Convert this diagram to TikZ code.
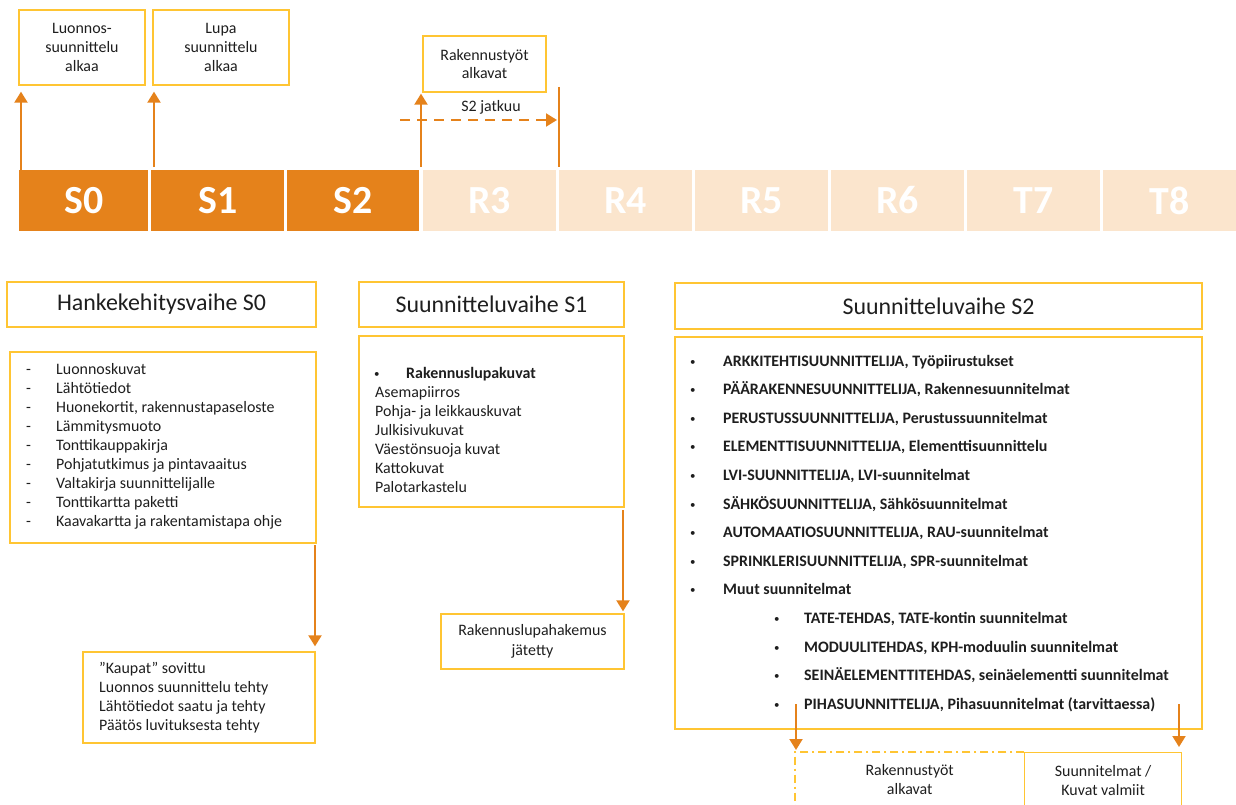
\documentclass[tikz,border=0pt]{standalone}
\usepackage{fontspec}
\setmainfont{Carlito}
\usetikzlibrary{arrows.meta}

\definecolor{phaseorange}{HTML}{E5821B}
\definecolor{phasepeach}{HTML}{FBE5CD}
\definecolor{frameyellow}{HTML}{FFC533}
\definecolor{ink}{HTML}{1E1E1E}

\tikzset{
  phasecell/.style={inner sep=0, minimum height=61bp, text=white,
    font=\fontsize{40}{40}\selectfont\bfseries, anchor=west},
  frame/.style={draw=frameyellow, line width=1.3bp, inner sep=0},
  titletext/.style={font=\fontsize{24}{28}\selectfont, text=ink},
  bodytext/.style={font=\fontsize{16}{19}\selectfont, text=ink},
  listline/.style={bodytext, inner sep=0, anchor=base west},
  boldline/.style={listline, font=\fontsize{16}{19}\selectfont\bfseries},
  bulletmark/.style={inner sep=0, anchor=base west, text=ink,
    font=\fontsize{11}{11}\selectfont, yshift=1bp},
  orangeline/.style={draw=phaseorange, line width=2bp},
  flow/.style={orangeline, -{Triangle[width=13bp,length=11bp]}},
  flowdash/.style={flow, dash pattern=on 10bp off 7bp},
  dashdotframe/.style={draw=frameyellow, line width=1.3bp,
    dash pattern=on 8bp off 4bp on 2bp off 4bp},
}

\begin{document}
\begin{tikzpicture}[x=1bp, y=-1bp]
\useasboundingbox (0,0) rectangle (1236,805);
\clip (0,0) rectangle (1236,805);

% ---- phase timeline ----
\foreach \l/\r/\lab/\c in {19/148/S0/phaseorange, 151/284/S1/phaseorange,
    287/419/S2/phaseorange, 423/556/R3/phasepeach, 559/692/R4/phasepeach,
    695/828/R5/phasepeach, 831/964/R6/phasepeach, 967/1100/T7/phasepeach,
    1103/1236/T8/phasepeach}{
  \pgfmathsetmacro\cellw{\r-\l}
  \node[phasecell, fill=\c, minimum width=\cellw bp] (ph\lab) at (\l,200.5) {\lab};
}

% ---- milestones above the timeline ----
\node[frame, bodytext, minimum width=126bp, minimum height=75bp, align=center]
  (lnb) at (82,47.5) {Luonnos-\\suunnittelu\\alkaa};
\node[frame, bodytext, minimum width=136bp, minimum height=75bp, align=center]
  (lpb) at (221,47.5) {Lupa\\suunnittelu\\alkaa};
\node[frame, bodytext, minimum width=123bp, minimum height=56bp, align=center]
  (rtb) at (484.5,64) {Rakennustyöt\\alkavat};

\coordinate (u0) at (21,170);
\coordinate (u1) at (154,167);
\coordinate (u2) at (421,167);
\draw[flow, shorten >=6bp] (u0) -- (u0 |- lnb.south);
\draw[flow, shorten >=6bp] (u1) -- (u1 |- lpb.south);
\draw[flow, shorten >=1bp] (u2) -- (u2 |- rtb.south);

\coordinate (vt) at (559,87);
\coordinate (vb) at (559,167);
\draw[orangeline] (vt) -- (vb);
\coordinate (d0) at (400,120);
\draw[flowdash, shorten >=2bp] (d0) -- (d0 -| vt);
\node[bodytext, inner sep=0] (sj) at (491,107) {S2 jatkuu};

% ---- phase S0 ----
\node[frame, titletext, minimum width=309bp, minimum height=45bp]
  (t0) at (161.5,304.5) {Hankekehitysvaihe S0};
\node[frame, minimum width=306bp, minimum height=191bp] (b0) at (163,447.5) {};
\foreach \t [count=\i from 0] in {Luonnoskuvat, Lähtötiedot,
    {Huonekortit, rakennustapaseloste}, Lämmitysmuoto, Tonttikauppakirja,
    Pohjatutkimus ja pintavaaitus, Valtakirja suunnittelijalle,
    Tonttikartta paketti, Kaavakartta ja rakentamistapa ohje}{
  \node[listline] (s0d\i) at (26,{374.5+19*\i}) {-};
  \node[listline] (s0t\i) at (56,{374.5+19*\i}) {\t};
}
\node[frame, minimum width=232bp, minimum height=91bp] (kp) at (199,697.5) {};
\foreach \t [count=\i from 0] in {”Kaupat” sovittu, Luonnos suunnittelu tehty,
    Lähtötiedot saatu ja tehty, Päätös luvituksesta tehty}{
  \node[listline] (kpt\i) at (99,{673.5+19*\i}) {\t};
}
\coordinate (k0) at (315,545);
\draw[flow, shorten >=5bp] (k0) -- (k0 |- kp.north);

% ---- phase S1 ----
\node[frame, titletext, minimum width=265bp, minimum height=45bp]
  (t1) at (491.5,304.5) {Suunnitteluvaihe S1};
\node[frame, minimum width=265bp, minimum height=171bp] (b1) at (491.5,421.5) {};
\node[bulletmark] (s1b) at (374,378) {•};
\node[boldline] (s1h) at (406,378) {Rakennuslupakuvat};
\foreach \t [count=\i from 1] in {Asemapiirros, Pohja- ja leikkauskuvat,
    Julkisivukuvat, Väestönsuoja kuvat, Kattokuvat, Palotarkastelu}{
  \node[listline] (s1t\i) at (375,{378+19*\i}) {\t};
}
\node[frame, bodytext, font=\fontsize{16}{20}\selectfont, minimum width=183bp,
  minimum height=55bp, align=center] (rlh) at (532.5,641.5)
  {Rakennuslupahakemus\\jätetty};
\coordinate (k1) at (623,510);
\draw[flow, shorten >=2bp] (k1) -- (k1 |- rlh.north);

% ---- phase S2 ----
\node[frame, titletext, minimum width=527bp, minimum height=46bp]
  (t2) at (938.5,306) {Suunnitteluvaihe S2};
\node[frame, minimum width=527bp, minimum height=392bp] (b2) at (938.5,533) {};
\foreach \t [count=\i from 0] in {{ARKKITEHTISUUNNITTELIJA, Työpiirustukset},
    {PÄÄRAKENNESUUNNITTELIJA, Rakennesuunnitelmat},
    {PERUSTUSSUUNNITTELIJA, Perustussuunnitelmat},
    {ELEMENTTISUUNNITTELIJA, Elementtisuunnittelu},
    {LVI-SUUNNITTELIJA, LVI-suunnitelmat},
    {SÄHKÖSUUNNITTELIJA, Sähkösuunnitelmat},
    {AUTOMAATIOSUUNNITTELIJA, RAU-suunnitelmat},
    {SPRINKLERISUUNNITTELIJA, SPR-suunnitelmat},
    Muut suunnitelmat}{
  \node[bulletmark] (s2b\i) at (690,{366+28.6*\i}) {•};
  \node[boldline] (s2t\i) at (723,{366+28.6*\i}) {\t};
}
\foreach \t [count=\i from 9] in {{TATE-TEHDAS, TATE-kontin suunnitelmat},
    {MODUULITEHDAS, KPH-moduulin suunnitelmat},
    {SEINÄELEMENTTITEHDAS, seinäelementti suunnitelmat},
    {PIHASUUNNITTELIJA, Pihasuunnitelmat (tarvittaessa)}}{
  \node[bulletmark] (s2b\i) at (774,{366+28.6*\i}) {•};
  \node[boldline] (s2t\i) at (804,{366+28.6*\i}) {\t};
}

% ---- outcomes of S2 ----
\node[bodytext, inner sep=0, minimum width=229bp, minimum height=55bp,
  anchor=north west, align=center] (rkb) at (795,752) {Rakennustyöt\\alkavat};
\draw[dashdotframe] (rkb.north east) -- (rkb.north west) -- (rkb.south west);
\node[frame, bodytext, minimum width=157bp, minimum height=55bp,
  anchor=north west, align=center] (svb) at (1024,752)
  {Suunnitelmat /\\Kuvat valmiit};

\coordinate (e0) at (796,704);
\coordinate (e1) at (1179,704);
\draw[flow, shorten >=2bp] (e0) -- (e0 |- rkb.north);
\draw[flow, shorten >=5bp] (e1) -- (e1 |- svb.north);
\end{tikzpicture}
\end{document}
